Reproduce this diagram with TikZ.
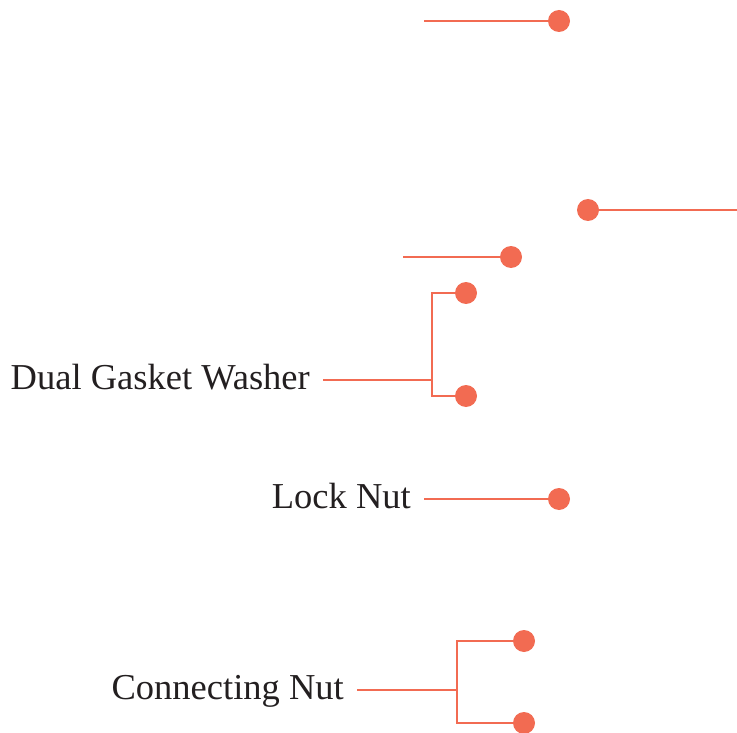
\documentclass[tikz,border=0pt]{standalone}
\usepackage{fontspec}
\setmainfont{Liberation Serif}
\definecolor{coral}{HTML}{F26B52}
\definecolor{ink}{HTML}{231F20}
\begin{document}
\begin{tikzpicture}[x=1pt,y=-1pt,
  lead/.style={draw=coral, line width=2pt},
  dot/.style={circle, fill=coral, minimum size=22pt, inner sep=0pt},
  lbl/.style={anchor=east, inner xsep=13pt, inner ysep=0pt, text height=19pt, text depth=0pt, text=ink, font=\fontsize{36.5}{44}\selectfont}]

\useasboundingbox (0,0) rectangle (737,733);

\coordinate (p1) at (424,21);
\coordinate (p2) at (737,210);
\coordinate (p3) at (403,257);

\coordinate (washerjoin) at (432,380);
\coordinate (nutjoin) at (457,690);

\node[lbl] (washer) at (323,380) {Dual Gasket Washer};
\node[lbl] (locknut) at (424,499) {Lock Nut};
\node[lbl] (connnut) at (357,690) {Connecting Nut};


\draw[lead]  (p1) --(559,21);
\draw[lead]  (588,210) --(p2);
\draw[lead]  (p3) --(511,257);

\draw[lead]  (washer.east) --(washerjoin);
\draw[lead]  (466,293) -| (washerjoin) |- (466,396);

\draw[lead]  (locknut.east) --(559,499);

\draw[lead]  (connnut.east) --(nutjoin);
\draw[lead]  (524,641) -| (nutjoin) |- (524,723);


\node[dot] (d1) at (559,21) {};
\node[dot] (d2) at (588,210) {};
\node[dot] (d3) at (511,257) {};
\node[dot] (washer1) at (466,293) {};
\node[dot] (washer2) at (466,396) {};
\node[dot] (locknutdot) at (559,499) {};
\node[dot] (connnut1) at (524,641) {};
\node[dot] (connnut2) at (524,723) {};

\end{tikzpicture}
\end{document}
